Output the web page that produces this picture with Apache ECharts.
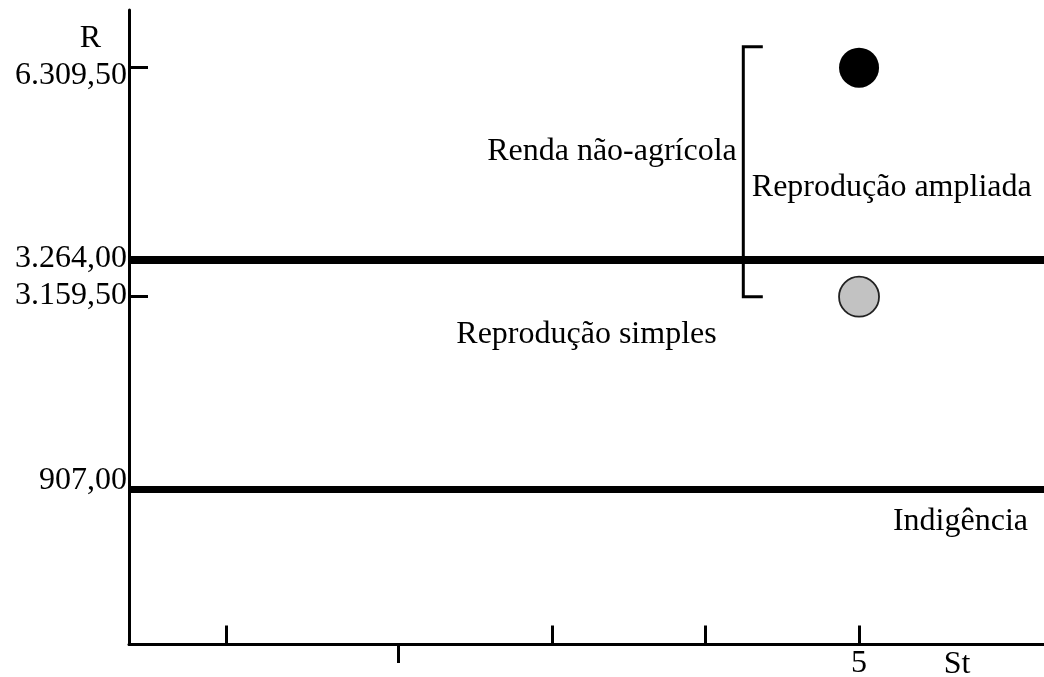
<!DOCTYPE html>
<html>
<head>
<meta charset="utf-8">
<title>Renda e reprodução</title>
<script src="https://cdn.jsdelivr.net/npm/echarts@6/dist/echarts.min.js"></script>
<style>
  html, body { margin: 0; padding: 0; background: #ffffff; }
  #chart { width: 1044px; height: 677px; }
</style>
</head>
<body>
<div id="chart"></div>
<script>
// ---- Data ----
// Reference incomes (R) marked on the vertical axis
const yTickValues = [907.00, 3159.50, 3264.00, 6309.50];
const yTickLabels = ['907,00', '3.159,50', '3.264,00', '6.309,50'];

// Threshold lines and their names
const lineValues = [3264.00, 907.00];
const lineNames = ['Reprodução simples', 'Indigência'];

// Households in stratum 5: with and without non-farm income
const pointStratum = [5, 5];
const pointIncome = [6309.50, 3159.50];
const pointNames = ['Com renda não-agrícola', 'Sem renda não-agrícola'];

// Gap covered by non-farm income
const bracketRange = [3159.50, 6309.50];
const bracketNames = ['Renda não-agrícola', 'Reprodução ampliada'];

// Stratum axis (St)
const xTicksUp = [0.88, 3, 4, 5];
const xTicksDown = [2];
const xLabelValues = [5];
const xAxisName = 'St';
const yAxisName = 'R';

// ---- Layout / style ----
// The R axis is schematic: each reference income sits on its own band.
const yBreaks = [[0, 0], [907, 155], [3159.5, 347.8], [3264, 384.5], [6309.5, 576.8]];
const yAxisTop = 634.5;
const xMin = 0.244, xMax = 6.205;
const bracketX = 4.246;
const pointColors = ['#000000', '#c2c2c2'];
const FONT = '"Liberation Serif", "Times New Roman", serif';
const FS = 32;

function toAxis(r) {
  for (let i = 1; i < yBreaks.length; i++) {
    const a = yBreaks[i - 1], b = yBreaks[i];
    if (r <= b[0] || i === yBreaks.length - 1) {
      return a[1] + (r - a[0]) * (b[1] - a[1]) / (b[0] - a[0]);
    }
  }
}

// vertical nudges of the R labels relative to their ticks
const yLabelPad = {
  '907,00': [0, 0, 17, 0],
  '3.159,50': [0, 0, 1.4, 0],
  '3.264,00': [0, 0, 3.6, 0],
  '6.309,50': [16.6, 0, 0, 0]
};

const yAxisValues = yTickValues.map(toAxis);
function yLabelFor(v) {
  let best = 0;
  yAxisValues.forEach((a, i) => { if (Math.abs(a - v) < Math.abs(yAxisValues[best] - v)) best = i; });
  return yTickLabels[best];
}
const yRich = {};
yTickLabels.forEach((t, i) => {
  yRich['l' + i] = { fontFamily: FONT, fontSize: FS, color: '#000', padding: yLabelPad[t] };
});

const chart = echarts.init(document.getElementById('chart'), null, { renderer: 'canvas' });

const option = {
  animation: false,
  backgroundColor: '#ffffff',
  grid: {
    left: 129, right: 0, top: 10, bottom: 32.5,
    containLabel: false, outerBoundsMode: 'none'
  },
  xAxis: [
    {
      type: 'value', min: xMin, max: xMax,
      name: xAxisName, nameLocation: 'end', nameGap: -87, nameMoveOverlap: false,
      nameTextStyle: { fontFamily: FONT, fontSize: FS, color: '#000', align: 'center', verticalAlign: 'top', lineHeight: 41 },
      splitLine: { show: false },
      axisLine: { show: true, onZero: false, lineStyle: { color: '#000', width: 3 } },
      axisTick: { show: true, inside: true, length: 19, customValues: xTicksUp, lineStyle: { color: '#000', width: 3 } },
      axisLabel: {
        show: true, customValues: xLabelValues, margin: 3,
        fontFamily: FONT, fontSize: FS, color: '#000',
        formatter: v => String(v)
      }
    },
    {
      type: 'value', min: xMin, max: xMax, position: 'bottom',
      splitLine: { show: false },
      axisLine: { show: false, onZero: false },
      axisTick: { show: true, inside: false, length: 18.5, customValues: xTicksDown, lineStyle: { color: '#000', width: 3 } },
      axisLabel: { show: false }
    }
  ],
  yAxis: {
    type: 'value', min: 0, max: yAxisTop,
    name: yAxisName, nameLocation: 'end', nameGap: -28.5, nameMoveOverlap: false,
    nameTextStyle: { fontFamily: FONT, fontSize: FS, color: '#000', align: 'right', verticalAlign: 'middle', padding: [0, 28, 0, 0] },
    splitLine: { show: false },
    axisLine: { show: true, onZero: false, lineStyle: { color: '#000', width: 3 } },
    axisTick: { show: true, inside: true, length: 19, customValues: yAxisValues, lineStyle: { color: '#000', width: 3 } },
    axisLabel: {
      show: true, customValues: yAxisValues, margin: 2,
      formatter: v => {
        const t = yLabelFor(v);
        return '{l' + yTickLabels.indexOf(t) + '|' + t + '}';
      },
      rich: yRich
    }
  },
  series: [
    {
      name: 'Renda',
      type: 'scatter',
      symbol: 'circle',
      symbolSize: 40,
      z: 5,
      data: pointStratum.map((s, i) => ({
        name: pointNames[i],
        value: [s, toAxis(pointIncome[i])],
        itemStyle: {
          color: pointColors[i],
          borderColor: i === 0 ? '#000' : '#222',
          borderWidth: i === 0 ? 0 : 1.8,
          opacity: 1
        }
      })),
      markLine: {
        silent: true,
        symbol: ['none', 'none'],
        animation: false,
        data: [
          {
            yAxis: toAxis(lineValues[0]),
            lineStyle: { color: '#000', width: 8, type: 'solid' },
            label: {
              show: true, formatter: lineNames[0], position: 'insideMiddleBottom',
              distance: [0, 58.7], fontFamily: FONT, fontSize: FS, color: '#000'
            }
          },
          {
            yAxis: toAxis(lineValues[1]),
            lineStyle: { color: '#000', width: 7, type: 'solid' },
            label: {
              show: true, formatter: lineNames[1], position: 'insideEndBottom',
              distance: [16, 16.5], fontFamily: FONT, fontSize: FS, color: '#000'
            }
          }
        ]
      }
    },
    {
      name: 'Renda não-agrícola',
      type: 'custom',
      z: 4,
      encode: { x: 0, y: [1, 2] },
      data: [[bracketX, toAxis(bracketRange[0]), toAxis(bracketRange[1])]],
      renderItem: function (params, api) {
        const x = api.value(0);
        const lo = api.coord([x, api.value(1)]);
        const hi = api.coord([x, api.value(2)]);
        const top = hi[1] - 21;
        const bot = lo[1];
        const arm = 19.5;
        const mid = (top + bot) / 2;
        const textStyle = { font: FS + 'px ' + FONT, fill: '#000' };
        return {
          type: 'group',
          children: [
            {
              type: 'polyline',
              shape: { points: [[lo[0] + arm, top], [lo[0], top], [lo[0], bot], [lo[0] + arm, bot]] },
              style: { stroke: '#000', lineWidth: 3, fill: 'none', lineJoin: 'miter' }
            },
            {
              type: 'text',
              style: Object.assign({ text: bracketNames[0], x: lo[0] - 6.5, y: mid - 20, align: 'right', verticalAlign: 'middle' }, textStyle)
            },
            {
              type: 'text',
              style: Object.assign({ text: bracketNames[1], x: lo[0] + 8.5, y: mid + 16, align: 'left', verticalAlign: 'middle' }, textStyle)
            }
          ]
        };
      }
    }
  ]
};

chart.setOption(option);
</script>
</body>
</html>
